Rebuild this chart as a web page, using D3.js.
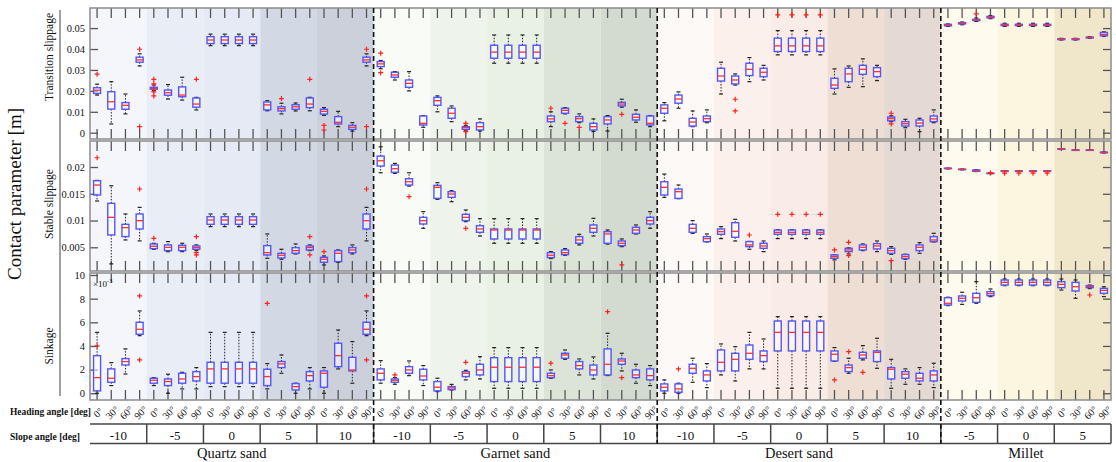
<!DOCTYPE html>
<html>
<head>
<meta charset="utf-8">
<script src="https://d3js.org/d3.v7.min.js"></script>
<style>
body { margin: 0; background: #fff; }
text { font-family: "Liberation Serif", "Times New Roman", serif; fill: #111; }
</style>
</head>
<body>
<script>
// ---- categories ----------------------------------------------------------
var materials = ["Quartz sand", "Garnet sand", "Desert sand", "Millet"];
var slopeSets = [[-10, -5, 0, 5, 10], [-10, -5, 0, 5, 10], [-10, -5, 0, 5, 10], [-5, 0, 5]];
var headings = ["0°", "30°", "60°", "90°"];

// ---- tick labels ----------------------------------------------------------
var transTicks  = [0, 0.01, 0.02, 0.03, 0.04, 0.05];
var stableTicks = [0.005, 0.01, 0.015, 0.02];
var sinkTicks   = [0, 2, 4, 6, 8, 10];

// ---- box stats [lower whisker, q1, median, q3, upper whisker] -----------
// transition slippage [m]
var transStats = [
  // quartz
  [0.018, 0.0188, 0.0203, 0.0215, 0.0232], [0.0042, 0.0113, 0.0148, 0.0196, 0.0244],
  [0.009, 0.0112, 0.0131, 0.0144, 0.0185], [0.0319, 0.0337, 0.0348, 0.0361, 0.0377],
  [0.0201, 0.0208, 0.0212, 0.0217, 0.0228], [0.0161, 0.0179, 0.0191, 0.0204, 0.023],
  [0.0156, 0.0172, 0.018, 0.0219, 0.0265], [0.0109, 0.0122, 0.0137, 0.0166, 0.0169],
  [0.0416, 0.0426, 0.0443, 0.0459, 0.0471], [0.0416, 0.0426, 0.0443, 0.0459, 0.0471],
  [0.0416, 0.0426, 0.0443, 0.0459, 0.0471], [0.0416, 0.0426, 0.0443, 0.0459, 0.0471],
  [0.0105, 0.0109, 0.0133, 0.0147, 0.0153], [0.009, 0.0104, 0.0115, 0.0124, 0.0141],
  [0.0104, 0.0112, 0.0124, 0.0134, 0.0142], [0.0105, 0.012, 0.0137, 0.0166, 0.0169],
  [0.0083, 0.0089, 0.0102, 0.0112, 0.012], [0.0029, 0.0042, 0.005, 0.0077, 0.0102],
  [0.0008, 0.0016, 0.0026, 0.0035, 0.0048], [0.0319, 0.0337, 0.0348, 0.0361, 0.0377],
  // garnet
  [0.0306, 0.0316, 0.0329, 0.034, 0.0345], [0.0252, 0.0265, 0.0276, 0.0289, 0.0292],
  [0.02, 0.0217, 0.0236, 0.0252, 0.0292], [0.0026, 0.0037, 0.0045, 0.008, 0.0082],
  [0.01, 0.0131, 0.0153, 0.0169, 0.0176], [0.0053, 0.0069, 0.0093, 0.0117, 0.0128],
  [0.0012, 0.0016, 0.0024, 0.0029, 0.0035], [0.0008, 0.0013, 0.0029, 0.0048, 0.0066],
  [0.0332, 0.0356, 0.0385, 0.0418, 0.0467], [0.0332, 0.0356, 0.0385, 0.0418, 0.0467],
  [0.0332, 0.0356, 0.0385, 0.0418, 0.0467], [0.0332, 0.0356, 0.0385, 0.0418, 0.0467],
  [0.0029, 0.0053, 0.0066, 0.008, 0.01], [0.009, 0.0093, 0.0107, 0.0117, 0.012],
  [0.0048, 0.0053, 0.0067, 0.0077, 0.009], [0.0006, 0.0013, 0.0029, 0.0045, 0.0066],
  [0.0008, 0.0042, 0.0061, 0.0077, 0.0082], [0.0122, 0.0128, 0.0137, 0.0145, 0.016],
  [0.005, 0.0061, 0.0074, 0.0088, 0.0109], [0.0029, 0.0037, 0.0045, 0.008, 0.0082],
  // desert
  [0.0057, 0.0093, 0.0117, 0.0133, 0.0144], [0.0117, 0.0141, 0.0161, 0.018, 0.0195],
  [0.0029, 0.0032, 0.0051, 0.0069, 0.0104], [0.0048, 0.0053, 0.0067, 0.008, 0.0109],
  [0.0185, 0.0247, 0.0271, 0.0308, 0.0337], [0.0228, 0.0233, 0.0252, 0.0271, 0.0281],
  [0.0244, 0.0273, 0.0303, 0.0332, 0.0359], [0.0252, 0.0268, 0.0289, 0.0308, 0.0322],
  [0.0372, 0.0388, 0.0415, 0.0452, 0.0488], [0.0372, 0.0388, 0.0415, 0.0452, 0.0488],
  [0.0372, 0.0388, 0.0415, 0.0452, 0.0488], [0.0372, 0.0388, 0.0415, 0.0452, 0.0488],
  [0.0185, 0.0212, 0.0228, 0.026, 0.0305], [0.0217, 0.0244, 0.0281, 0.0308, 0.0319],
  [0.022, 0.0279, 0.0303, 0.0322, 0.0353], [0.0249, 0.0268, 0.0292, 0.0311, 0.0322],
  [0.0053, 0.0057, 0.0067, 0.0075, 0.0081], [0.0024, 0.0032, 0.0043, 0.0053, 0.0064],
  [0.0005, 0.0032, 0.0046, 0.0061, 0.0069], [0.0048, 0.0053, 0.0066, 0.008, 0.0109],
  // millet
  [0.0508, 0.0511, 0.0514, 0.0518, 0.052], [0.0516, 0.052, 0.0522, 0.0526, 0.0529],
  [0.0532, 0.0536, 0.0539, 0.0542, 0.0548], [0.0545, 0.0549, 0.0552, 0.0556, 0.056],
  [0.0508, 0.0512, 0.0515, 0.0518, 0.0523], [0.0508, 0.0512, 0.0515, 0.0518, 0.0523],
  [0.0508, 0.0512, 0.0515, 0.0518, 0.0523], [0.0508, 0.0512, 0.0515, 0.0518, 0.0523],
  [0.0443, 0.0445, 0.0447, 0.0449, 0.0451], [0.0443, 0.0445, 0.0447, 0.0449, 0.0451],
  [0.0451, 0.0453, 0.0455, 0.0457, 0.0459], [0.046, 0.0463, 0.047, 0.0479, 0.0482]
];
// [box index, value]
var transOut = [
  [0, 0.028], [3, 0.0399], [3, 0.0029], [4, 0.0255], [4, 0.0233], [4, 0.0195], [4, 0.0176],
  [7, 0.0255], [13, 0.0163], [15, 0.0255], [16, 0.0035], [16, 0.0013], [19, 0.0399], [19, 0.0029],
  [20, 0.038], [20, 0.0287], [26, 0.0045], [26, 0.0005], [32, 0.0117], [33, 0.0045], [34, 0.0026],
  [37, 0.0088], [45, 0.016], [45, 0.0104], [48, 0.0563], [49, 0.0563], [50, 0.0563], [51, 0.0563],
  [56, 0.0093], [56, 0.0042], [62, 0.0568]
];

// stable slippage [m]
var stableStats = [
  // quartz
  [0.01365, 0.01477, 0.01663, 0.01744, 0.0175], [0.0019, 0.0073, 0.0106, 0.01321, 0.0165],
  [0.00637, 0.007, 0.00867, 0.00929, 0.01122], [0.0062, 0.00842, 0.00998, 0.01122, 0.01246],
  [0.00463, 0.00475, 0.00519, 0.00562, 0.00575], [0.00419, 0.00438, 0.005, 0.00544, 0.00606],
  [0.00419, 0.00438, 0.005, 0.00537, 0.00575], [0.00438, 0.00463, 0.00494, 0.00525, 0.00544],
  [0.00886, 0.00929, 0.0101, 0.01072, 0.01122], [0.00886, 0.00929, 0.0101, 0.01072, 0.01122],
  [0.00886, 0.00929, 0.0101, 0.01072, 0.01122], [0.00886, 0.00929, 0.0101, 0.01072, 0.01122],
  [0.00295, 0.00357, 0.004, 0.00531, 0.00749], [0.00276, 0.00301, 0.00351, 0.00388, 0.00463],
  [0.00376, 0.00388, 0.00438, 0.00494, 0.00562], [0.00438, 0.0045, 0.00494, 0.00525, 0.00544],
  [0.0017, 0.0022, 0.00276, 0.00313, 0.00338], [0.0022, 0.00233, 0.00388, 0.00438, 0.0045],
  [0.00376, 0.004, 0.0045, 0.00494, 0.00544], [0.0062, 0.00842, 0.00998, 0.01122, 0.01246],
  // garnet
  [0.01893, 0.02018, 0.02117, 0.02204, 0.02378], [0.01881, 0.019, 0.01968, 0.02036, 0.02067],
  [0.01644, 0.01663, 0.01725, 0.01781, 0.01893], [0.00855, 0.00935, 0.00998, 0.0106, 0.01166],
  [0.01396, 0.01414, 0.0162, 0.01657, 0.01707], [0.01352, 0.01433, 0.01495, 0.01539, 0.01557],
  [0.00979, 0.00998, 0.0106, 0.01116, 0.01197], [0.00711, 0.0078, 0.00842, 0.00904, 0.01035],
  [0.00575, 0.00655, 0.00823, 0.00842, 0.01035], [0.00575, 0.00655, 0.00823, 0.00842, 0.01035],
  [0.00575, 0.00655, 0.00823, 0.00842, 0.01035], [0.00575, 0.00655, 0.00823, 0.00842, 0.01035],
  [0.00289, 0.00307, 0.00351, 0.004, 0.00419], [0.00351, 0.00363, 0.004, 0.0045, 0.00475],
  [0.00544, 0.00575, 0.00637, 0.00699, 0.00743], [0.00711, 0.0078, 0.00855, 0.00917, 0.01041],
  [0.0056, 0.00575, 0.00749, 0.00792, 0.00823], [0.00512, 0.00531, 0.00575, 0.00618, 0.00656],
  [0.00749, 0.00761, 0.00823, 0.00873, 0.00917], [0.00855, 0.00935, 0.00998, 0.0106, 0.01166],
  // desert
  [0.01433, 0.01477, 0.0162, 0.01725, 0.01868], [0.01408, 0.01414, 0.01539, 0.01589, 0.01663],
  [0.00761, 0.0078, 0.00855, 0.00929, 0.00998], [0.006, 0.00606, 0.00662, 0.00699, 0.00749],
  [0.00662, 0.00743, 0.00792, 0.00842, 0.00886], [0.00618, 0.00687, 0.00799, 0.0096, 0.01022],
  [0.00463, 0.00512, 0.00544, 0.00606, 0.0061], [0.00419, 0.00481, 0.00525, 0.00575, 0.00618],
  [0.00662, 0.00743, 0.0078, 0.00823, 0.0083], [0.00662, 0.00743, 0.0078, 0.00823, 0.0083],
  [0.00662, 0.00743, 0.0078, 0.00823, 0.0083], [0.00662, 0.00743, 0.0078, 0.00823, 0.0083],
  [0.00264, 0.00295, 0.00326, 0.00357, 0.0036], [0.00376, 0.00419, 0.0045, 0.00481, 0.0049],
  [0.00438, 0.0045, 0.005, 0.00544, 0.00562], [0.00419, 0.00469, 0.00525, 0.00568, 0.00618],
  [0.0037, 0.00388, 0.00438, 0.00481, 0.00512], [0.00276, 0.00289, 0.00326, 0.00363, 0.0037],
  [0.00388, 0.00438, 0.005, 0.00544, 0.00587], [0.006, 0.00606, 0.00637, 0.00699, 0.00761],
  // millet
  [0.01965, 0.0197, 0.01974, 0.01978, 0.0198], [0.01948, 0.01952, 0.01956, 0.0196, 0.01963],
  [0.01915, 0.0192, 0.01935, 0.01945, 0.0195], [0.01875, 0.01878, 0.01882, 0.01886, 0.0189],
  [0.01915, 0.0192, 0.01924, 0.01928, 0.01932], [0.01915, 0.0192, 0.01924, 0.01928, 0.01932],
  [0.01915, 0.0192, 0.01924, 0.01928, 0.01932], [0.01915, 0.0192, 0.01924, 0.01928, 0.01932],
  [0.02328, 0.02332, 0.02336, 0.0234, 0.02344], [0.0231, 0.02313, 0.02317, 0.0232, 0.02325],
  [0.0231, 0.02313, 0.02317, 0.0232, 0.02325], [0.02262, 0.02266, 0.02272, 0.02278, 0.02284]
];
var stableOut = [
  [0, 0.02173], [3, 0.01589], [4, 0.00668], [7, 0.00699], [7, 0.004], [7, 0.00357],
  [15, 0.00699], [15, 0.00357], [16, 0.00419], [19, 0.01589], [22, 0.01445], [26, 0.00855],
  [37, 0.0017], [46, 0.0073], [48, 0.01116], [49, 0.01116], [50, 0.01116], [51, 0.01116],
  [52, 0.0045], [53, 0.00593], [53, 0.00345], [56, 0.00251], [63, 0.01889],
  [64, 0.01885], [65, 0.01885], [66, 0.01885], [67, 0.01885]
];

// sinkage [x1e-3 m]
var sinkStats = [
  // quartz
  [0, 0.2, 1.32, 3.18, 5.15], [0.65, 0.93, 1.27, 2.06, 2.59], [1.63, 2.39, 2.68, 2.93, 3.75],
  [4.87, 4.99, 5.41, 6.0, 6.96], [0.65, 0.85, 1.1, 1.27, 1.32], [0, 0.65, 0.99, 1.21, 1.61],
  [0.37, 0.85, 1.21, 1.69, 1.77], [0.37, 1.04, 1.41, 1.83, 2.17],
  [0.56, 0.85, 2.06, 2.62, 5.15], [0.56, 0.85, 2.06, 2.62, 5.15],
  [0.56, 0.85, 2.06, 2.62, 5.15], [0.56, 0.85, 2.06, 2.62, 5.15],
  [0.37, 0.65, 1.41, 2.03, 2.51], [1.69, 2.17, 2.48, 2.68, 3.24], [0, 0.28, 0.56, 0.82, 0.85],
  [0.37, 1.04, 1.49, 1.83, 2.17], [0, 0.51, 1.69, 1.89, 2.17], [2.06, 2.25, 3.18, 4.23, 5.35],
  [0.85, 1.89, 1.97, 3.04, 4.37], [4.87, 4.99, 5.41, 6.0, 6.96],
  // garnet
  [0.85, 1.13, 1.69, 2.06, 2.76], [0.76, 0.93, 1.1, 1.21, 1.32], [1.49, 1.69, 1.97, 2.25, 2.73],
  [0.65, 1.13, 1.46, 2.03, 2.34], [0.14, 0.2, 0.51, 0.99, 1.27], [0.28, 0.31, 0.45, 0.56, 0.75],
  [1.13, 1.41, 1.69, 1.83, 1.94], [1.21, 1.55, 1.97, 2.45, 3.1],
  [0.42, 0.99, 2.2, 3.01, 3.86], [0.42, 0.99, 2.2, 3.01, 3.86],
  [0.42, 0.99, 2.2, 3.01, 3.86], [0.42, 0.99, 2.2, 3.01, 3.86],
  [1.27, 1.32, 1.49, 1.69, 1.97], [2.87, 2.96, 3.24, 3.38, 3.66], [1.55, 2.06, 2.34, 2.68, 2.9],
  [1.21, 1.55, 1.97, 2.39, 3.07], [1.5, 1.55, 2.45, 3.75, 5.07], [1.89, 2.45, 2.73, 2.9, 3.38],
  [0.85, 1.32, 1.55, 1.97, 2.45], [0.65, 1.13, 1.49, 2.06, 2.34],
  // desert
  [0, 0.2, 0.51, 0.79, 1.13], [0, 0.08, 0.37, 0.79, 0.85], [0.93, 1.69, 2.11, 2.45, 2.96],
  [0.48, 1.04, 1.55, 1.89, 2.51], [1.55, 1.89, 2.62, 3.66, 4.17], [1.04, 1.89, 2.87, 3.38, 3.94],
  [2.06, 2.87, 3.38, 4.08, 5.15], [2.06, 2.68, 3.18, 3.58, 4.59],
  [0.42, 3.58, 5.15, 6.11, 6.48], [0.42, 3.58, 5.15, 6.11, 6.48],
  [0.42, 3.58, 5.15, 6.11, 6.48], [0.42, 3.58, 5.15, 6.11, 6.48],
  [2.7, 2.73, 3.3, 3.58, 3.86], [1.69, 1.83, 2.17, 2.39, 2.96], [2.82, 2.96, 3.24, 3.46, 4.03],
  [2.11, 2.68, 3.46, 3.58, 4.65], [0.42, 1.21, 2.03, 2.17, 2.87], [0.76, 1.27, 1.61, 1.83, 2.06],
  [0.76, 1.04, 1.27, 1.69, 2.17], [0.48, 1.04, 1.55, 1.89, 2.54],
  // millet
  [7.41, 7.46, 7.61, 8.08, 8.12], [7.52, 7.8, 8.03, 8.23, 8.54], [7.61, 7.69, 8.08, 8.45, 9.44],
  [8.17, 8.25, 8.42, 8.59, 8.82], [9.1, 9.15, 9.38, 9.58, 9.66], [9.1, 9.15, 9.38, 9.58, 9.66],
  [9.1, 9.15, 9.38, 9.58, 9.66], [9.1, 9.15, 9.38, 9.58, 9.66], [8.73, 8.93, 9.21, 9.44, 9.66],
  [8.03, 8.65, 9.01, 9.38, 9.58], [8.85, 8.93, 9.04, 9.1, 9.15], [8.17, 8.45, 8.7, 8.87, 9.01]
];
var sinkOut = [
  [0, 4.0], [3, 8.23], [3, 2.82], [12, 7.6], [19, 8.23], [19, 2.82], [21, 1.55], [26, 2.62],
  [32, 2.54], [36, 6.9], [37, 1.32], [41, 2.06], [52, 1.13], [53, 3.52], [54, 1.77], [70, 8.31]
];

// background tint per slope group, in material order
var groupFills = [
  "#f4f6fb", "#e9edf6", "#e5eaf5", "#d2d8e4", "#cbd0db",
  "#f8fbf6", "#eef4ec", "#e9f1e4", "#dce4d8", "#d3dad0",
  "#fdf9f7", "#fbf0eb", "#f9ebe5", "#efded4", "#e4d9d3",
  "#fefaee", "#fcf6e0", "#f0e7cb"
];

/* ---- layout ------------------------------------------------------------ */
var W = 1116, H = 462;
var L = 90, R = 1111;
var svg = d3.select("body").append("svg").attr("width", W).attr("height", H);

var boxes = [], groups = [], mats = [];
materials.forEach(function (m, mi) {
  var start = boxes.length;
  slopeSets[mi].forEach(function (s) {
    groups.push({ i0: boxes.length, n: headings.length, slope: s, fill: groupFills[groups.length] });
    headings.forEach(function (h) { boxes.push({ m: mi, s: s, h: h }); });
  });
  mats.push({ name: m, i0: start, n: boxes.length - start });
});

var x = d3.scaleBand().domain(d3.range(boxes.length)).range([L, R]);
var cx = function (i) { return x(i) + x.bandwidth() / 2; };

function panel(top, bottom, domain, stats, outl, ticks, fmt) {
  var y = d3.scaleLinear().domain(domain).range([bottom, top]);
  var g = svg.append("g");

  g.selectAll("rect.bg").data(groups).join("rect")
    .attr("x", function (d) { return x(d.i0); })
    .attr("width", function (d) { return x.step() * d.n; })
    .attr("y", top).attr("height", bottom - top)
    .attr("fill", function (d) { return d.fill; });

  // axes, ticks pointing inward
  var ax = [
    [d3.axisLeft(y).tickValues(ticks).tickFormat(fmt), "translate(" + L + ",0)"],
    [d3.axisRight(y).tickValues(ticks).tickFormat(""), "translate(" + R + ",0)"],
    [d3.axisTop(x).tickFormat(""), "translate(0," + top + ")"],
    [d3.axisBottom(x).tickFormat(""), "translate(0," + bottom + ")"]
  ];
  ax.forEach(function (a, k) {
    var s = g.append("g").attr("transform", a[1])
      .call(a[0].tickSizeInner(k < 2 ? -8 : -10).tickSizeOuter(0).tickPadding(5));
    s.select(".domain").remove();
    s.selectAll(".tick line").attr("stroke", "#555").attr("stroke-width", 1.3);
    s.selectAll("text").attr("font-size", 10.5).attr("fill", "#111")
      .attr("font-family", "Liberation Serif, serif");
  });

  var b = g.selectAll("g.box").data(stats).join("g")
    .attr("transform", function (d, i) { return "translate(" + cx(i) + ",0)"; });
  [[3, 4], [1, 0]].forEach(function (p) {
    b.append("line").attr("x1", 0).attr("x2", 0)
      .attr("y1", function (d) { return y(d[p[0]]); })
      .attr("y2", function (d) { return y(d[p[1]]); })
      .attr("stroke", "#222").attr("stroke-width", 1).attr("stroke-dasharray", "1.5,1.5");
    b.append("line").attr("x1", -2).attr("x2", 2)
      .attr("y1", function (d) { return y(d[p[1]]); })
      .attr("y2", function (d) { return y(d[p[1]]); })
      .attr("stroke", "#222").attr("stroke-width", 1.2);
  });
  b.append("rect").attr("x", -3.5).attr("width", 7)
    .attr("y", function (d) { return y(d[3]); })
    .attr("height", function (d) { return Math.max(y(d[1]) - y(d[3]), 0.5); })
    .attr("fill", "#fff").attr("fill-opacity", 0.55)
    .attr("stroke", "#5555ff").attr("stroke-width", 1.4);
  b.append("line").attr("x1", -3.5).attr("x2", 3.5)
    .attr("y1", function (d) { return y(d[2]); })
    .attr("y2", function (d) { return y(d[2]); })
    .attr("stroke", "#ff3030").attr("stroke-width", 1.3);

  g.selectAll("path.out").data(outl).join("path")
    .attr("transform", function (d) { return "translate(" + cx(d[0]) + "," + y(d[1]) + ")"; })
    .attr("d", "M-2.5,0H2.5M0,-2.5V2.5")
    .attr("stroke", "#ff2020").attr("stroke-width", 1.2);

  svg.append("rect").attr("x", L).attr("y", top).attr("width", R - L).attr("height", bottom - top)
    .attr("fill", "none").attr("stroke", "#8c8c8c").attr("stroke-width", 1.5);
  return y;
}

var f2 = function (d) { return d === 0 ? "0" : d3.format("~g")(d); };
panel(8, 139, [-0.003, 0.0596], transStats, transOut, transTicks, f2);
panel(141, 271, [0.00057, 0.02486], stableStats, stableOut, stableTicks, f2);
panel(273, 400, [-0.57, 10.17], sinkStats, sinkOut, sinkTicks, d3.format("d"));

// scale note for sinkage
var sc = svg.append("text").attr("x", 93).attr("y", 287).attr("font-size", 9).attr("fill", "#333");
sc.append("tspan").text("×10");
sc.append("tspan").attr("dy", -4).attr("font-size", 6.5).text("-3");

// y titles
svg.append("line").attr("x1", 60).attr("x2", 60).attr("y1", 10).attr("y2", 396)
  .attr("stroke", "#a0a0a0").attr("stroke-width", 2);
[["Transition slippage", 57], ["Stable slippage", 204], ["Sinkage", 346]].forEach(function (t) {
  svg.append("text").attr("transform", "translate(53," + t[1] + ") rotate(-90)")
    .attr("text-anchor", "middle").attr("font-size", 11.5).text(t[0]);
});
svg.append("text").attr("transform", "translate(21,194) rotate(-90)")
  .attr("text-anchor", "middle").attr("font-size", 19).text("Contact parameter [m]");

// heading angle row
svg.append("text").attr("x", 10).attr("y", 415).attr("font-size", 10.5)
  .attr("font-weight", "bold").attr("textLength", 81).attr("lengthAdjust", "spacingAndGlyphs")
  .text("Heading angle [deg]");
svg.selectAll("text.hd").data(boxes).join("text")
  .attr("transform", function (d, i) { return "translate(" + (cx(i) + 3.5) + ",415) rotate(-45)"; })
  .attr("text-anchor", "middle").attr("font-size", 10)
  .text(function (d) { return d.h; });

// slope angle table
svg.append("text").attr("x", 10).attr("y", 440).attr("font-size", 10.5)
  .attr("font-weight", "bold").attr("textLength", 70).attr("lengthAdjust", "spacingAndGlyphs")
  .text("Slope angle [deg]");
[424, 443.5].forEach(function (yy) {
  svg.append("line").attr("x1", L).attr("x2", R).attr("y1", yy).attr("y2", yy)
    .attr("stroke", "#444").attr("stroke-width", 1.5);
});
svg.selectAll("line.sep").data(groups.slice(1)).join("line")
  .attr("x1", function (d) { return x(d.i0); }).attr("x2", function (d) { return x(d.i0); })
  .attr("y1", 424).attr("y2", 443.5).attr("stroke", "#444").attr("stroke-width", 1.5);
svg.append("line").attr("x1", R).attr("x2", R).attr("y1", 424).attr("y2", 443.5)
  .attr("stroke", "#444").attr("stroke-width", 1.5);
svg.selectAll("text.sl").data(groups).join("text")
  .attr("x", function (d) { return x(d.i0) + x.step() * d.n / 2; })
  .attr("y", 439.5).attr("text-anchor", "middle").attr("font-size", 13)
  .text(function (d) { return d.slope; });

// material names and dashed dividers
svg.selectAll("text.mat").data(mats).join("text")
  .attr("x", function (d) { return x(d.i0) + x.step() * d.n / 2; })
  .attr("y", 458).attr("text-anchor", "middle").attr("font-size", 14.5)
  .text(function (d) { return d.name; });
svg.selectAll("line.div").data(mats.slice(1)).join("line")
  .attr("x1", function (d) { return x(d.i0); }).attr("x2", function (d) { return x(d.i0); })
  .attr("y1", 8).attr("y2", 443.5)
  .attr("stroke", "#111").attr("stroke-width", 1.6).attr("stroke-dasharray", "5,3");
</script>
</body>
</html>
